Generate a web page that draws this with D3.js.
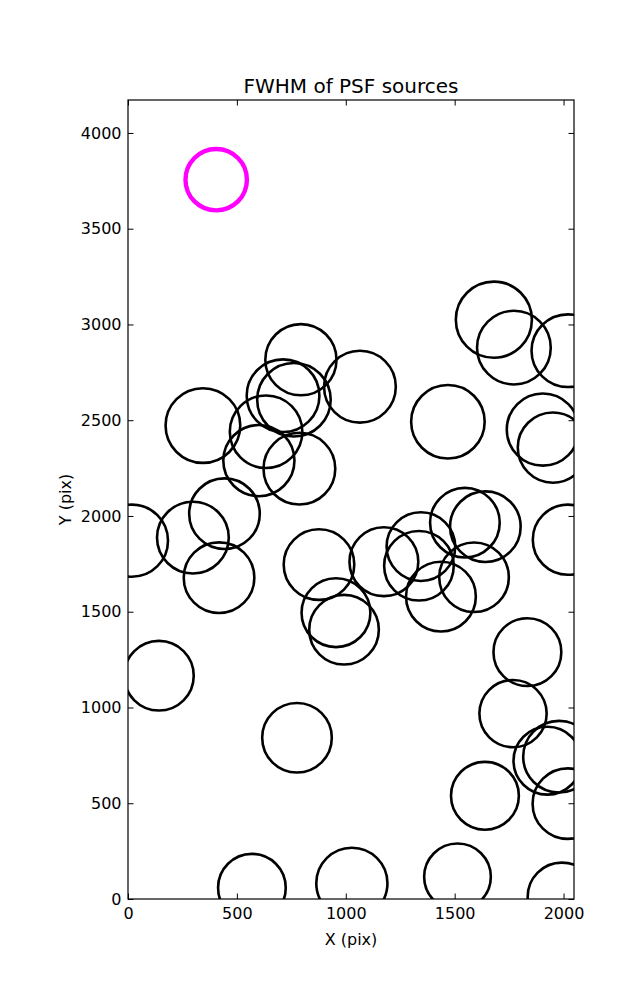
<!DOCTYPE html>
<html>
<head>
<meta charset="utf-8">
<script src="https://cdn.jsdelivr.net/npm/d3@7"></script>
<style>
  html, body { margin: 0; padding: 0; background: #fff; }
  svg text { font-family: "DejaVu Sans", sans-serif; fill: #000; }
</style>
</head>
<body>
<script>
// Source positions (detector pixels) and FWHM
const srcX = [1680, 1772, 2020, 794, 1065, 712, 762, 344, 634, 601, 787, 1469, 1905, 1951,
              18, 298, 443, 418, 877, 955, 992, 1175, 1345, 1336, 1437, 1547, 1641, 1589, 2020,
              1834, 142, 776, 1768, 1926, 1979, 1639, 2020, 569, 1028, 1513, 1992];
const srcY = [3025, 2879, 2863, 2816, 2675, 2628, 2607, 2472, 2440, 2289, 2247, 2492, 2451, 2357,
              1871, 1887, 2012, 1678, 1746, 1495, 1406, 1761, 1840, 1740, 1579, 1965, 1944, 1680, 1876,
              1289, 1166, 842, 968, 722, 743, 539, 498, 59, 82, 116, 12];
const srcFWHM = [3.90, 3.78, 3.73, 3.65, 3.68, 3.73, 3.77, 3.83, 3.72, 3.65, 3.68, 3.77, 3.70, 3.60,
                 3.70, 3.68, 3.62, 3.62, 3.62, 3.53, 3.57, 3.53, 3.52, 3.57, 3.58, 3.57, 3.62, 3.57, 3.60,
                 3.48, 3.57, 3.57, 3.45, 3.48, 3.67, 3.48, 3.62, 3.47, 3.65, 3.42, 3.50];
// Reference marker
const refX = [405];
const refY = [3756];
const refFWHM = [3.15];

const xTicks = [0, 500, 1000, 1500, 2000];
const yTicks = [0, 500, 1000, 1500, 2000, 2500, 3000, 3500, 4000];
const xDomain = [0, 2048];
const yDomain = [0, 4172];

const W = 637, H = 1000;
const m = { left: 128, top: 100, right: 63, bottom: 101 };
const pw = W - m.left - m.right, ph = H - m.top - m.bottom;

const svg = d3.select("body").append("svg").attr("width", W).attr("height", H);
const x = d3.scaleLinear().domain(xDomain).range([0, pw]);
const y = d3.scaleLinear().domain(yDomain).range([ph, 0]);
const r = d3.scaleLinear().domain([0, 4]).range([0, 39]);

svg.append("defs").append("clipPath").attr("id", "clip")
  .append("rect").attr("width", pw).attr("height", ph);

const g = svg.append("g").attr("transform", `translate(${m.left},${m.top})`);

const plot = g.append("g").attr("clip-path", "url(#clip)");

const src = srcX.map((v, i) => ({ x: v, y: srcY[i], f: srcFWHM[i] }));
plot.selectAll("circle.src").data(src).join("circle")
  .attr("class", "src")
  .attr("cx", d => x(d.x)).attr("cy", d => y(d.y)).attr("r", d => r(d.f))
  .attr("fill", "none").attr("stroke", "#000").attr("stroke-width", 2.6);

const ref = refX.map((v, i) => ({ x: v, y: refY[i], f: refFWHM[i] }));
plot.selectAll("circle.ref").data(ref).join("circle")
  .attr("class", "ref")
  .attr("cx", d => x(d.x)).attr("cy", d => y(d.y)).attr("r", d => r(d.f))
  .attr("fill", "none").attr("stroke", "#ff00ff").attr("stroke-width", 4.4);

// Axes with inward ticks on all four sides
const tl = 5.5;
function styleAxis(sel) {
  sel.select(".domain").remove();
  sel.selectAll(".tick line").attr("stroke", "#000").attr("stroke-width", 1);
  sel.selectAll(".tick text").attr("font-size", 16);
}
const xb = g.append("g").attr("transform", `translate(0,${ph})`)
  .call(d3.axisBottom(x).tickValues(xTicks).tickFormat(d3.format("d")).tickSizeInner(-tl).tickSizeOuter(0).tickPadding(9));
styleAxis(xb);
const xt = g.append("g")
  .call(d3.axisTop(x).tickValues(xTicks).tickFormat("").tickSizeInner(-tl).tickSizeOuter(0));
styleAxis(xt);
const yl = g.append("g")
  .call(d3.axisLeft(y).tickValues(yTicks).tickFormat(d3.format("d")).tickSizeInner(-tl).tickSizeOuter(0).tickPadding(6.5));
styleAxis(yl);
const yr = g.append("g").attr("transform", `translate(${pw},0)`)
  .call(d3.axisRight(y).tickValues(yTicks).tickFormat("").tickSizeInner(-tl).tickSizeOuter(0));
styleAxis(yr);

// Frame
g.append("rect").attr("width", pw).attr("height", ph)
  .attr("fill", "none").attr("stroke", "#000").attr("stroke-width", 1.2);

// Labels
svg.append("text").attr("x", m.left + pw / 2).attr("y", 93)
  .attr("text-anchor", "middle").attr("font-size", 20).text("FWHM of PSF sources");
svg.append("text").attr("x", m.left + pw / 2).attr("y", 945)
  .attr("text-anchor", "middle").attr("font-size", 16).text("X (pix)");
svg.append("text").attr("transform", `translate(71,${m.top + ph / 2}) rotate(-90)`)
  .attr("text-anchor", "middle").attr("font-size", 16).text("Y (pix)");
</script>
</body>
</html>
